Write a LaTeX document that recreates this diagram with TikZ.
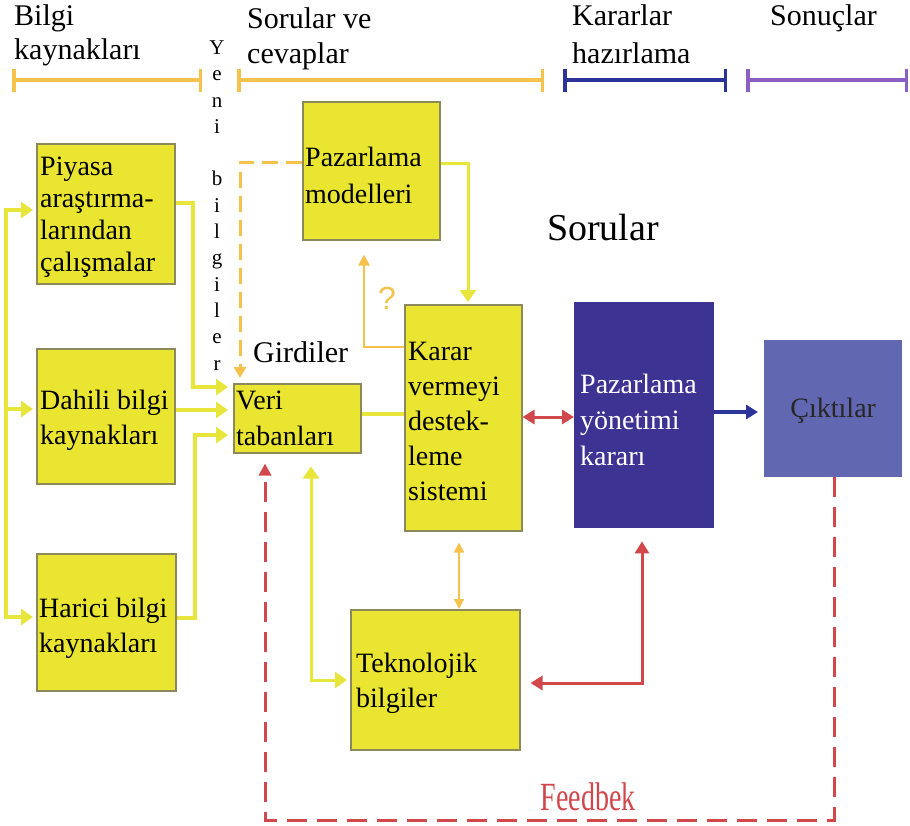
\documentclass[tikz,border=0pt]{standalone}
\usepackage{fontspec}
\usepackage{graphicx}
\setmainfont{Liberation Serif}
\newfontfamily\qfont{Liberation Sans}
\usetikzlibrary{arrows.meta}

\definecolor{boxyellow}{HTML}{E9E530}
\definecolor{boxedge}{HTML}{8C8A5C}
\definecolor{lineyellow}{HTML}{E8E63A}
\definecolor{amber}{HTML}{F5C24C}
\definecolor{fbred}{HTML}{D2474C}
\definecolor{navy}{HTML}{3D3393}
\definecolor{barblue}{HTML}{2C3399}
\definecolor{barpurple}{HTML}{8D5EC4}
\definecolor{outbox}{HTML}{6167B0}

\begin{document}
\begin{tikzpicture}[x=1pt,y=-1pt,
  ybox/.style={draw=boxedge, fill=boxyellow, line width=1.5pt, inner sep=0pt, anchor=north west},
  btxt/.style={anchor=west, align=left, inner sep=0pt, font=\fontsize{28}{35}\selectfont},
  htxt/.style={anchor=base west, align=left, inner sep=0pt},
  hbar/.style={line width=3.5pt, {Bar[width=23pt,line width=3.5pt]}-{Bar[width=23pt,line width=3.5pt]}},
  yconn/.style={draw=lineyellow, line width=4pt},
  ytip/.style={-{Triangle[length=12pt,width=16pt]}, shorten >=5pt},
  ytips/.style={{Triangle[length=12pt,width=16pt]}-{Triangle[length=12pt,width=16pt]}},
  amconn/.style={draw=amber, line width=2.5pt},
  redconn/.style={draw=fbred, line width=3pt},
  rtips/.style={{Triangle[length=12pt,width=14pt]}-{Triangle[length=12pt,width=14pt]}},
]
\useasboundingbox (0,0) rectangle (910,825);

% phase headings and their bars (anchored at the last baseline)
\node[htxt, font=\fontsize{30}{34}\selectfont] (h1) at (14,59) {Bilgi\\kaynakları};
\node[htxt, font=\fontsize{30}{35}\selectfont] (h2) at (247,63) {Sorular ve\\cevaplar};
\node[htxt, font=\fontsize{30}{38}\selectfont] (h3) at (572,63) {Kararlar\\hazırlama};
\node[htxt, font=\fontsize{30}{36}\selectfont] (h4) at (770,25) {Sonuçlar};
\draw[hbar, amber] (12,80) -- (202,80);
\draw[hbar, amber] (237,80) -- (544,80);
\draw[hbar, barblue] (563,80) -- (727,80);
\draw[hbar, barpurple] (746,80) -- (908,80);

% vertical caption
\node[anchor=base, align=center, inner sep=0pt, font=\fontsize{21}{26.3}\selectfont]
  (yeni) at (217,370) {Y\\e\\n\\i\\[26.3pt]b\\i\\l\\g\\i\\l\\e\\r};

% boxes
\node[ybox, minimum width=138pt, minimum height=140pt] (piy) at (36,143) {};
\node[ybox, minimum width=138pt, minimum height=135pt] (dah) at (36,348) {};
\node[ybox, minimum width=139pt, minimum height=137pt] (har) at (36,553) {};
\node[ybox, minimum width=137pt, minimum height=138pt] (pm) at (302,101) {};
\node[ybox, minimum width=127pt, minimum height=69pt] (ver) at (233,383) {};
\node[ybox, minimum width=117pt, minimum height=226pt] (kar) at (404,304) {};
\node[ybox, minimum width=169pt, minimum height=140pt] (tek) at (350,609) {};
\node[fill=navy, inner sep=0pt, anchor=north west, minimum width=140pt, minimum height=226pt] (pyk) at (574,302) {};
\node[fill=outbox, inner sep=0pt, anchor=north west, minimum width=138pt, minimum height=137pt] (cik) at (764,340) {};

% box texts
\node[btxt, font=\fontsize{28}{32}\selectfont] (piyt) at ([xshift=4pt,yshift=-3pt]piy.west) {Piyasa\\araştırma-\\larından\\çalışmalar};
\node[btxt] (daht) at ([xshift=4pt,yshift=-4pt]dah.west) {Dahili bilgi\\kaynakları};
\node[btxt] (hart) at ([xshift=3pt,yshift=-6pt]har.west) {Harici bilgi\\kaynakları};
\node[btxt, font=\fontsize{28}{37}\selectfont] (pmt) at ([xshift=3pt,yshift=-5pt]pm.west) {Pazarlama\\modelleri};
\node[btxt, font=\fontsize{28}{36}\selectfont] (vert) at ([xshift=3pt]ver.west) {Veri\\tabanları};
\node[btxt] (kart) at ([xshift=4pt,yshift=-4pt]kar.west) {Karar\\vermeyi\\destek-\\leme\\sistemi};
\node[btxt, text=white, font=\fontsize{28}{36}\selectfont] (pykt) at ([xshift=6pt,yshift=-5pt]pyk.west) {Pazarlama\\yönetimi\\kararı};
\node[btxt, anchor=center, font=\fontsize{28}{35}\selectfont, text=black!85] (cikt) at ([yshift=-2pt]cik.center) {Çıktılar};
\node[btxt] (tekt) at ([xshift=6pt,yshift=-4pt]tek.west) {Teknolojik\\bilgiler};

% free labels
\node[anchor=base west, inner sep=0pt, font=\fontsize{30}{30}\selectfont] (gird) at (253,362) {Girdiler};
\node[anchor=base west, inner sep=0pt, font=\fontsize{38}{38}\selectfont] (sor) at (547,240) {Sorular};
\node[inner sep=0pt, text=amber, font=\qfont\fontsize{32}{32}\selectfont] (qm) at (387,298) {?};
\node[inner sep=0pt, text=fbred, font=\fontsize{40}{40}\selectfont] (fb) at (588,797) {\scalebox{0.7}[1]{Feedbek}};

% source bus on the left
\coordinate (b1) at (6,210);
\coordinate (b2) at (6,409);
\coordinate (b3) at (6,617);
\draw[yconn, ytips, shorten <=3pt, shorten >=3pt]
  (b1 -| piy.west) -- (b1) -- (b3) -- (b3 -| har.west);
\draw[yconn, ytip, shorten >=3pt] (b2) -- (b2 -| dah.west);

% sources into the database
\draw[yconn, ytip] (piy.east |- 0,203) -- (193,203) -- (193,387) -- (ver.west |- 0,387);
\draw[yconn, ytip] (dah.east |- 0,410) -- (ver.west |- 0,410);
\draw[yconn, ytip] (har.east |- 0,618) -- (195,618) -- (195,435) -- (ver.west |- 0,435);
\draw[yconn] (ver.east |- 0,414) -- (kar.west |- 0,414);
\draw[yconn, line width=3pt, ytip, shorten >=2pt] (pm.east |- 0,163) -- (468,163) -- (kar.north -| 468,0);

% model links
\draw[amconn, line width=3pt, dash pattern=on 16pt off 8pt, -{Triangle[length=11pt,width=12pt]}]
  (pm.west |- 0,162) -- (240,162) -- ([yshift=5pt]ver.north -| 240,0);
\draw[amconn, -{Triangle[length=11pt,width=11pt]}]
  (kar.west |- 0,347) -- (364,347) -- ([yshift=-14pt]pm.south -| 364,0);
\draw[amconn, line width=2pt, {Triangle[length=10pt,width=10pt]}-{Triangle[length=10pt,width=10pt]}]
  ([yshift=-11pt]kar.south -| 459,0) -- (tek.north -| 459,0);

% decision links
\draw[redconn, rtips]
  (kar.east |- 0,417) -- (pyk.west |- 0,417);
\draw[draw=barblue, line width=4pt, -{Triangle[length=12pt,width=14pt]}]
  (pyk.east |- 0,412) -- ([xshift=-6pt]cik.west |- 0,412);
\draw[redconn, rtips]
  ([yshift=-13pt]pyk.south -| 642,0) -- (642,683) -- ([xshift=10pt]tek.east |- 0,683);
\draw[yconn, line width=3pt, ytips]
  ([yshift=-13pt]ver.south -| 311,0) -- (311,680) -- ([xshift=-3pt]tek.west |- 0,680);

% feedback loop
\draw[redconn, dash pattern=on 20pt off 10pt, -{Triangle[length=12pt,width=12pt]}]
  (cik.south -| 834,0) -- (834,820) -- (265,820) -- ([yshift=-10pt]ver.south -| 265,0);
\end{tikzpicture}
\end{document}
